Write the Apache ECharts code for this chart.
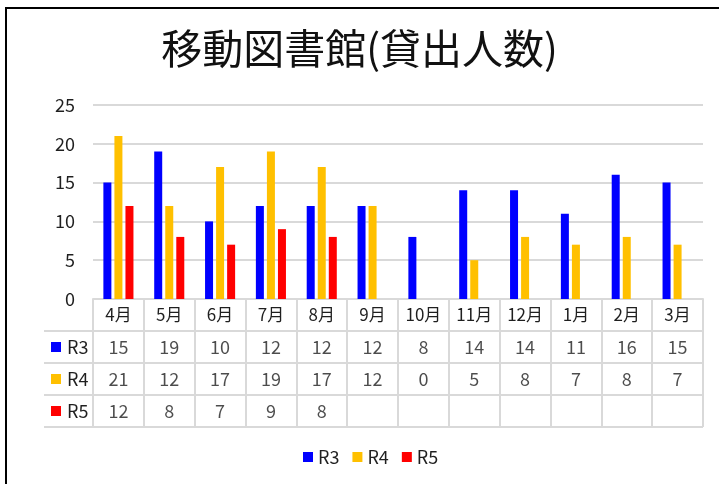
<!DOCTYPE html>
<html>
<head>
<meta charset="utf-8">
<script src="https://cdn.jsdelivr.net/npm/echarts@6/dist/echarts.min.js"></script>
<style>
  html, body { margin: 0; padding: 0; background: #fff; }
  #main { width: 719px; height: 484px; }
</style>
</head>
<body>
<div id="main"></div>
<script>
// データ
var months = ['4月', '5月', '6月', '7月', '8月', '9月', '10月', '11月', '12月', '1月', '2月', '3月'];
var seriesNames = ['R3', 'R4', 'R5'];
var seriesColors = ['#0000ff', '#ffc000', '#ff0000'];
var r3 = [15, 19, 10, 12, 12, 12, 8, 14, 14, 11, 16, 15];
var r4 = [21, 12, 17, 19, 17, 12, 0, 5, 8, 7, 8, 7];
var r5 = [12, 8, 7, 9, 8, null, null, null, null, null, null, null];
var yTicks = { min: 0, max: 25, interval: 5 };

var font = 'Noto Sans CJK JP';
var lineCol = '#d9d9d9';
var textCol = '#1f1f1f';

// データテーブルのセル
var cells = [];
[r3, r4, r5].forEach(function (row, r) {
  row.forEach(function (v, i) {
    if (v !== null) cells.push([i, r, v]);
  });
});

var rich = {};
seriesColors.forEach(function (c, i) {
  rich['c' + i] = { width: 10, height: 10, backgroundColor: c };
});
rich.t = { fontSize: 18, fontFamily: font, color: textCol, padding: [0, 0, 0, 6] };

var myChart = echarts.init(document.getElementById('main'));
myChart.setOption({
  animation: false,
  color: seriesColors,
  title: {
    text: '移動図書館(貸出人数)',
    left: 'center',
    top: 23,
    textStyle: { fontFamily: font, fontSize: 41, fontWeight: 'normal', color: '#111' }
  },
  graphic: [{
    type: 'rect',
    shape: { x: 6, y: 8, width: 760, height: 520 },
    style: { fill: 'none', stroke: '#000', lineWidth: 2 },
    silent: true
  }],
  legend: {
    data: seriesNames,
    left: 303,
    top: 448,
    padding: 0,
    icon: 'rect',
    itemWidth: 10,
    itemHeight: 10,
    itemGap: 13,
    textStyle: { fontFamily: font, fontSize: 18, color: textCol }
  },
  grid: [
    { left: 93, right: 16, top: 105, height: 194 },
    { left: 93, right: 16, top: 331, height: 96 }
  ],
  xAxis: [{
    type: 'category',
    gridIndex: 0,
    data: months,
    axisLine: { lineStyle: { color: lineCol, width: 2 } },
    axisTick: { show: true, length: 32, lineStyle: { color: lineCol, width: 2 } },
    axisLabel: { fontFamily: font, fontSize: 17, color: textCol, margin: 16, verticalAlign: 'middle', interval: 0 }
  }, {
    type: 'category',
    gridIndex: 1,
    position: 'top',
    data: months,
    axisLine: { show: true, lineStyle: { color: lineCol, width: 2 } },
    axisTick: { show: false },
    axisLabel: { show: false },
    splitLine: { show: true, interval: 0, lineStyle: { color: lineCol, width: 2 } }
  }],
  yAxis: [{
    type: 'value',
    gridIndex: 0,
    min: yTicks.min,
    max: yTicks.max,
    interval: yTicks.interval,
    axisLine: { show: false },
    axisTick: { show: false },
    axisLabel: { fontFamily: font, fontSize: 18, color: textCol, margin: 18 },
    splitLine: { lineStyle: { color: lineCol, width: 2 } }
  }, {
    type: 'category',
    gridIndex: 1,
    inverse: true,
    data: seriesNames,
    axisLine: { show: true, lineStyle: { color: lineCol, width: 2 } },
    axisTick: { show: true, length: 49, lineStyle: { color: lineCol, width: 2 } },
    axisLabel: {
      align: 'left',
      margin: 42,
      formatter: function (v, i) { return '{c' + i + '|}{t|' + v + '}'; },
      rich: rich
    },
    splitLine: { show: true, interval: 0, lineStyle: { color: lineCol, width: 2 } }
  }, {
    type: 'category',
    gridIndex: 1,
    inverse: true,
    data: seriesNames,
    offset: 49,
    axisLine: { show: true, lineStyle: { color: lineCol, width: 2 } },
    axisTick: { show: false },
    axisLabel: { show: false }
  }],
  series: [{
    name: 'R3', type: 'bar', xAxisIndex: 0, yAxisIndex: 0,
    barWidth: 8, barGap: '38%', data: r3
  }, {
    name: 'R4', type: 'bar', xAxisIndex: 0, yAxisIndex: 0,
    barWidth: 8, barGap: '38%', data: r4
  }, {
    name: 'R5', type: 'bar', xAxisIndex: 0, yAxisIndex: 0,
    barWidth: 8, barGap: '38%', data: r5
  }, {
    name: 'table', type: 'scatter', xAxisIndex: 1, yAxisIndex: 1,
    symbolSize: 1,
    itemStyle: { color: 'rgba(0,0,0,0)' },
    label: {
      show: true, position: 'inside',
      formatter: function (p) { return p.value[2]; },
      fontFamily: font, fontSize: 18, color: textCol
    },
    silent: true,
    data: cells
  }]
});
</script>
</body>
</html>
